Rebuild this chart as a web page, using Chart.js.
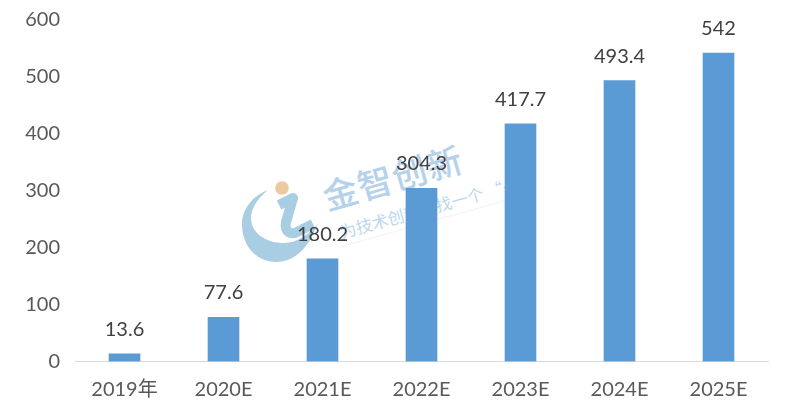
<!DOCTYPE html>
<html>
<head>
<meta charset="utf-8">
<script src="https://cdn.jsdelivr.net/npm/chart.js@4"></script>
<style>
html, body { margin: 0; padding: 0; background: #fff; }
#wrap { width: 790px; height: 407px; position: relative; overflow: hidden; }
#chart { position: absolute; left: 0; top: 0; }
#logo { position: absolute; left: 0; top: 0; }
.wm { position: absolute; white-space: nowrap; font-family: "Noto Sans CJK SC"; transform-origin: left center; }
#wm1 { left: 323px; top: 174px; font-size: 35px; letter-spacing: 1px; color: #b5d2ea; font-weight: 500; transform: rotate(-16deg); line-height: 44px; }
#wm2 { left: 340px; top: 220px; font-size: 16.5px; color: #bcd8ec; transform: rotate(-15.5deg); line-height: 24px; }
</style>
</head>
<body>
<div id="wrap">
<svg id="logo" width="790" height="407">
    <path d="M268 190 C250 197 241 212 242 226 C243 248 258 262 276 262 C295 262 309 247 317 225 C308 234 298 243 284 243 C266 243 251 233 251 218 C251 208 258 198 268 190 Z" fill="#a9cde3"/>
    <path d="M279 205 L293 198 L286 222 C284 232 291 236 299 231 L313 224" fill="none" stroke="#a9cde3" stroke-width="10" stroke-linejoin="round"/>
    <circle cx="282" cy="188" r="6.8" fill="#eec9a0"/>
    <line x1="340" y1="247" x2="507" y2="200" stroke="#eef4fa" stroke-width="1"/>
</svg>
<div class="wm" id="wm1">金智创新</div>
<div class="wm" id="wm2">为技术创新寻找一个 “+”</div>
<canvas id="chart" width="790" height="407"></canvas>
</div>
<script>
const categories = ['2019年', '2020E', '2021E', '2022E', '2023E', '2024E', '2025E'];
const values = [13.6, 77.6, 180.2, 304.3, 417.7, 493.4, 542];
const valueLabels = ['13.6', '77.6', '180.2', '304.3', '417.7', '493.4', '542'];
const yTicks = [0, 100, 200, 300, 400, 500, 600];

const fontFamily = 'Lato, "Noto Sans CJK SC"';

const barLabels = {
    id: 'barLabels',
    afterDatasetsDraw(chart) {
        const ctx = chart.ctx;
        const meta = chart.getDatasetMeta(0);
        ctx.save();
        ctx.font = '20px ' + fontFamily;
        ctx.fillStyle = '#404040';
        ctx.textAlign = 'center';
        ctx.textBaseline = 'alphabetic';
        meta.data.forEach((bar, i) => {
            ctx.fillText(valueLabels[i], bar.x, bar.y - 18);
        });
        ctx.restore();
    }
};

new Chart(document.getElementById('chart'), {
    type: 'bar',
    data: {
        labels: categories,
        datasets: [{
            data: values,
            backgroundColor: '#5b9bd5',
            barThickness: 31
        }]
    },
    options: {
        responsive: false,
        animation: false,
        devicePixelRatio: 1,
        layout: { padding: { left: 0, right: 22, top: 20, bottom: 0 } },
        plugins: { legend: { display: false }, tooltip: { enabled: false } },
        scales: {
            x: {
                afterFit(axis) { axis.height = 45.5; axis.paddingLeft = 0; axis.paddingRight = 0; },
                grid: { display: false, drawTicks: false },
                border: { color: '#d9d9d9' },
                ticks: { color: '#595959', font: { size: 20, family: fontFamily }, padding: 16 }
            },
            y: {
                min: 0,
                max: 600,
                afterFit(axis) { axis.width = 75; axis.paddingTop = 0; axis.paddingBottom = 0; },
                afterBuildTicks(axis) { axis.ticks = yTicks.map(v => ({ value: v })); },
                grid: { display: false, drawTicks: false },
                border: { display: false },
                ticks: { color: '#595959', font: { size: 20, family: fontFamily }, padding: 15 }
            }
        }
    },
    plugins: [barLabels]
});
</script>
</body>
</html>
